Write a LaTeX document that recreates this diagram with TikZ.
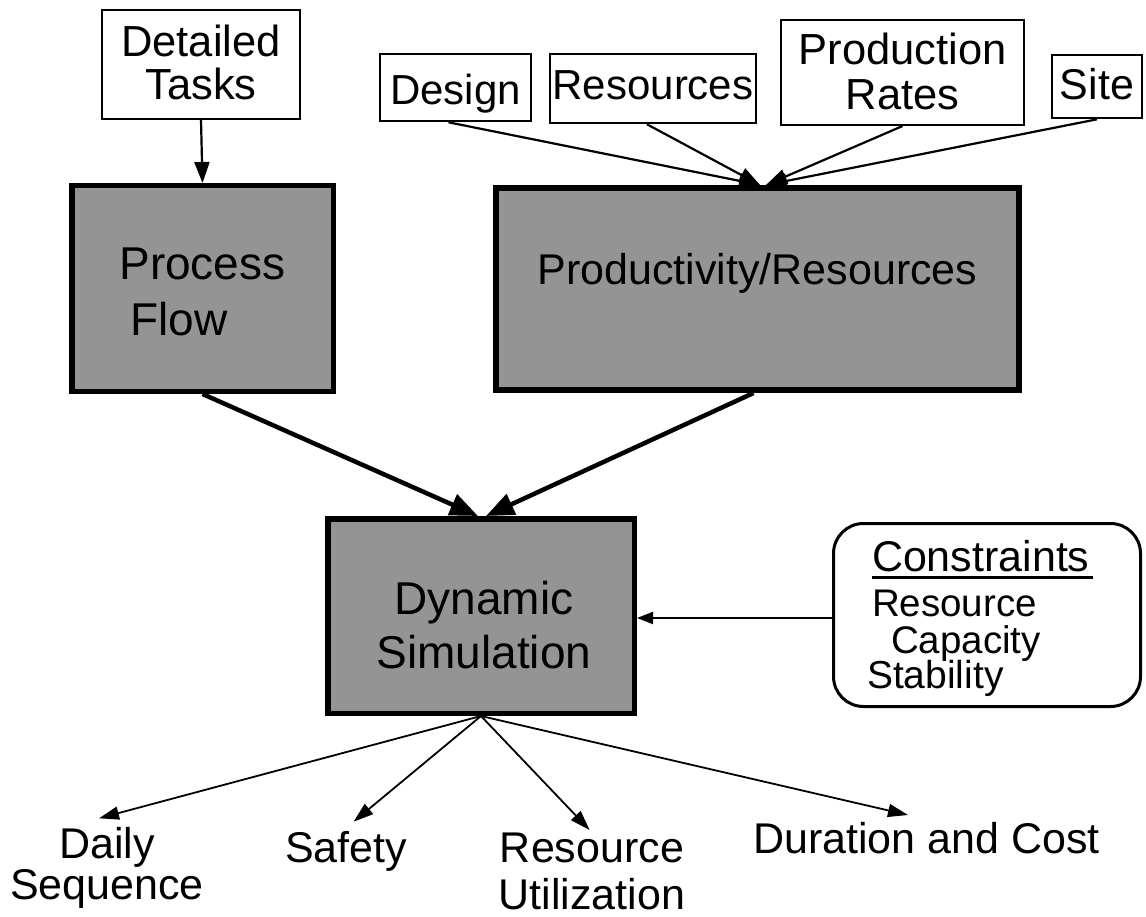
\documentclass[tikz,border=0pt]{standalone}
\usepackage{fontspec}
\setmainfont{Liberation Sans}
\usetikzlibrary{arrows.meta,calc}
\definecolor{boxgray}{gray}{0.58}
\newcommand\cstack[2]{\vtop{\lineskiplimit=-\maxdimen\baselineskip=#1\relax\halign{\hfil##\hfil\cr#2\crcr}}}
\newcommand\lstack[2]{\vtop{\lineskiplimit=-\maxdimen\baselineskip=#1\relax\halign{##\hfil\cr#2\crcr}}}
\newcommand\ulin[1]{\setbox0\hbox{#1}\rlap{\rule[-7.5pt]{\dimexpr\wd0+4pt\relax}{3pt}}\box0}
\begin{document}
\begin{tikzpicture}[x=1pt,y=-1pt,
  thinbox/.style={draw, line width=2pt, rectangle, inner sep=0pt},
  mainbox/.style={draw, line width=5.5pt, fill=boxgray, rectangle, inner sep=0pt},
  consbox/.style={draw, line width=3pt, rounded corners=30pt, rectangle, inner sep=0pt},
  outlabel/.style={inner sep=0pt, font=\fontsize{43}{45}\selectfont},
  toparrow/.style={line width=2.2pt, -{Triangle[length=21pt,width=15pt]}},
  thickarrow/.style={line width=4.5pt, -{Triangle[length=28pt,width=22pt]}},
  outarrow/.style={line width=1.8pt, -{Triangle[length=20pt,width=13pt]}},
  consarrow/.style={line width=2pt, -{Triangle[length=16pt,width=12pt]}}]
\fill[white] (0,0) rectangle (1146,917);
\useasboundingbox (0,0) rectangle (1146,917);

% input boxes
\node[thinbox, minimum width=198pt, minimum height=109pt, text height=0pt, text depth=15.6pt,
  font=\fontsize{43.5}{44}\selectfont] (dt) at (201,64.5) {\cstack{43.3pt}{Detailed\cr Tasks\cr}};
\node[thinbox, minimum width=151pt, minimum height=67pt, text height=34.4pt, text depth=0pt,
  font=\fontsize{42}{44}\selectfont] (design) at (455.5,87.8) {Design};
\node[thinbox, minimum width=206pt, minimum height=69pt, text height=22.4pt, text depth=0pt,
  font=\fontsize{42}{44}\selectfont] (res) at (653,88.8) {Resources};
\node[thinbox, minimum width=243pt, minimum height=104.7pt, text height=0pt, text depth=15.4pt,
  font=\fontsize{43.5}{45}\selectfont] (prod) at (902.5,72.7) {\cstack{45pt}{Production\cr Rates\cr}};
\node[thinbox, minimum width=90pt, minimum height=63pt, text height=26.4pt, text depth=0pt,
  font=\fontsize{43}{45}\selectfont] (site) at (1097,86.8) {Site};

% main boxes
\node[mainbox, minimum width=261.5pt, minimum height=205.5pt, text height=0pt, text depth=17pt,
  font=\fontsize{46}{56}\selectfont] (pf) at (202.5,288.5) {\lstack{55pt}{Process\cr\kern11pt Flow\cr}};
\node[mainbox, line width=6pt, minimum width=523pt, minimum height=202pt, text height=0pt, text depth=8pt,
  font=\fontsize{43}{45}\selectfont] (pr) at (757.5,289) {Productivity/Resources};
\node[mainbox, minimum width=306.5pt, minimum height=194.5pt, text height=0pt, text depth=4pt,
  font=\fontsize{46}{56}\selectfont] (dyn) at (481,616) {\kern6pt\cstack{54.3pt}{Dynamic\cr Simulation\cr}};

% constraints
\node[consbox, minimum width=307pt, minimum height=183pt, text height=0pt, text depth=88pt] (cons) at (987,615)
  {\lstack{45pt}{\fontsize{43}{45}\selectfont\kern5pt\ulin{Constraints}\kern17.5pt\cr
   \fontsize{38.5}{40}\selectfont\kern5pt Resource\cr\noalign{\vskip-8pt}
   \fontsize{38.5}{40}\selectfont\kern24pt Capacity\cr\noalign{\vskip-10pt}
   \fontsize{39}{40}\selectfont Stability\cr}};

% outputs
\node[outlabel, anchor=base] (daily) at (107,858) {\cstack{41pt}{Daily\cr Sequence\cr}};
\node[outlabel, anchor=base] (safety) at (346,862) {Safety};
\node[outlabel, anchor=base] (resutil) at (592,862) {\cstack{47pt}{Resource\cr Utilization\cr}};
\node[outlabel, anchor=base] (dur) at (926.5,853) {Duration and Cost};

% connectors
\draw[toparrow] (dt.south) -- (pf.north);
\draw[toparrow] ($(design.south)+(-7,0)$) -- ($(pr.north)+(2.5,0)$);
\draw[toparrow] ($(res.south)+(-6,0)$) -- ($(pr.north)+(2.5,0)$);
\draw[toparrow] (prod.south) -- ($(pr.north)+(8.5,0)$);
\draw[toparrow] (site.south) -- ($(pr.north)+(8.5,0)$);

\draw[thickarrow] (pf.south) -- ($(dyn.north)+(-3,0)$);
\draw[thickarrow] ($(pr.south)+(-4,0)$) -- ($(dyn.north)+(5,0)$);

\draw[consarrow] ($(cons.west)+(0,3)$) -- ($(dyn.east)+(0,2)$);

\draw[outarrow] (dyn.south) -- ($(daily.base)+(-8,-39.7)$);
\draw[outarrow] (dyn.south) -- ($(safety.base)+(7.6,-40.3)$);
\draw[outarrow] (dyn.south) -- ($(resutil.base)+(-2.4,-32)$);
\draw[outarrow] (dyn.south) -- ($(dur.base)+(-18.5,-38)$);
\end{tikzpicture}
\end{document}
